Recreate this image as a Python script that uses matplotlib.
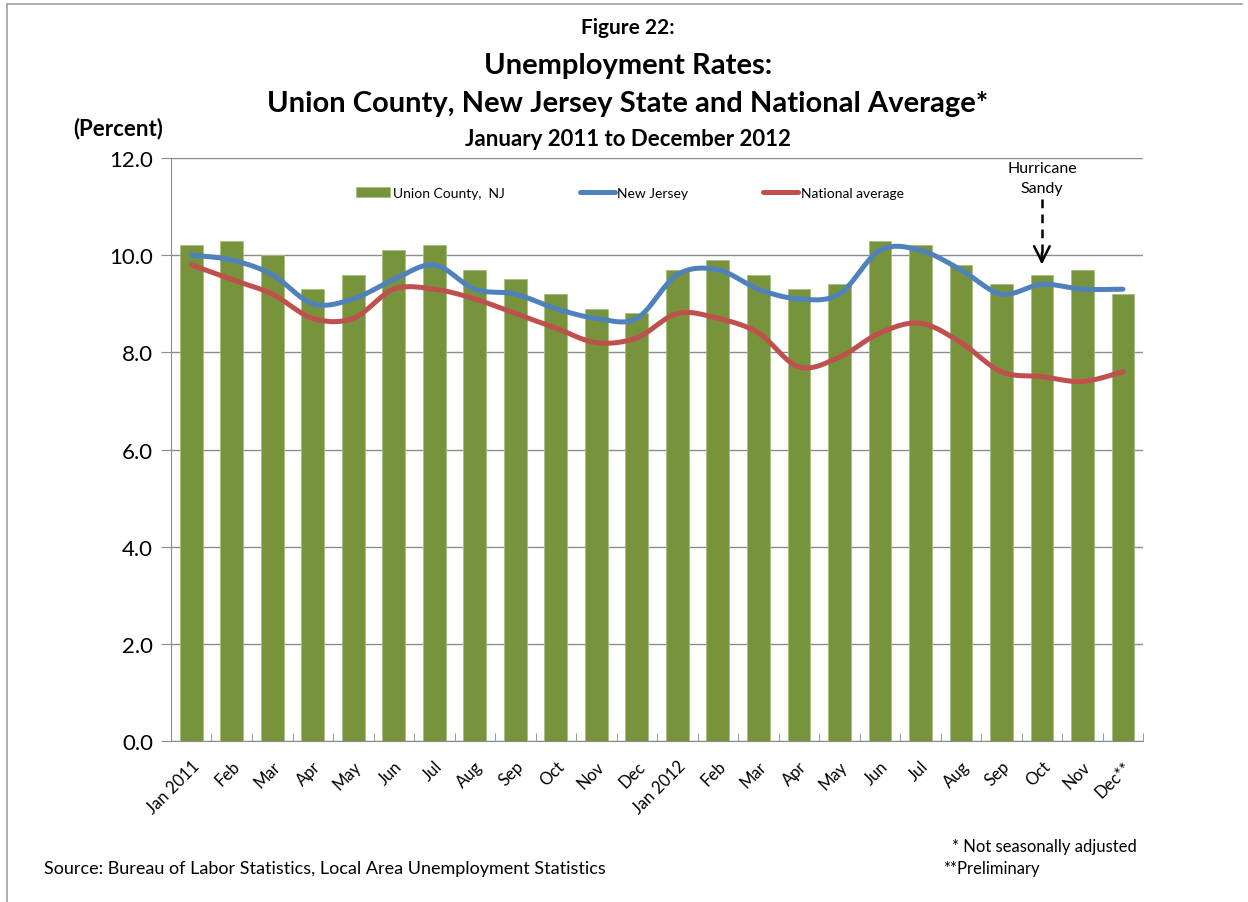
import numpy as np
import matplotlib
matplotlib.use("Agg")
import matplotlib.pyplot as plt

# Data
months = ["Jan 2011", "Feb", "Mar", "Apr", "May", "Jun", "Jul", "Aug", "Sep", "Oct", "Nov", "Dec",
          "Jan 2012", "Feb", "Mar", "Apr", "May", "Jun", "Jul", "Aug", "Sep", "Oct", "Nov", "Dec**"]
union_county = [10.2, 10.3, 10.0, 9.3, 9.6, 10.1, 10.2, 9.7, 9.5, 9.2, 8.9, 8.8,
                9.7, 9.9, 9.6, 9.3, 9.4, 10.3, 10.2, 9.8, 9.4, 9.6, 9.7, 9.2]
new_jersey = [10.0, 9.9, 9.6, 9.0, 9.1, 9.5, 9.8, 9.3, 9.2, 8.9, 8.7, 8.7,
              9.6, 9.7, 9.3, 9.1, 9.2, 10.1, 10.1, 9.7, 9.2, 9.4, 9.3, 9.3]
national = [9.8, 9.5, 9.2, 8.7, 8.7, 9.3, 9.3, 9.1, 8.8, 8.5, 8.2, 8.3,
            8.8, 8.7, 8.4, 7.7, 7.9, 8.4, 8.6, 8.2, 7.6, 7.5, 7.4, 7.6]

green = "#77933C"
blue = "#4F81BD"
red = "#C0504D"
grid_gray = "#8C8C8C"

plt.rcParams['font.family'] = ['Lato', 'DejaVu Sans']


def smooth(x, y, steps=20):
    # Excel-style smoothed line: cubic Bezier between points, tension 1/6
    x = np.asarray(x, float)
    y = np.asarray(y, float)
    pts = np.column_stack([x, y])
    n = len(pts)
    out = []
    t = np.linspace(0, 1, steps)[:, None]
    for i in range(n - 1):
        p0 = pts[i - 1] if i > 0 else pts[i]
        p1 = pts[i]
        p2 = pts[i + 1]
        p3 = pts[i + 2] if i + 2 < n else pts[i + 1]
        c1 = p1 + (p2 - p0) / 6
        c2 = p2 - (p3 - p1) / 6
        seg = ((1 - t) ** 3) * p1 + 3 * ((1 - t) ** 2) * t * c1 + 3 * (1 - t) * t ** 2 * c2 + t ** 3 * p2
        out.append(seg if i == 0 else seg[1:])
    out = np.vstack(out)
    return out[:, 0], out[:, 1]


fig = plt.figure(figsize=(12.48, 9.03), dpi=100)
ax = fig.add_axes([0.137, 0.1783, 0.779, 0.6456])

x = np.arange(len(months))
bars = ax.bar(x, union_county, width=0.56, color=green, edgecolor="#A6BF80", linewidth=0.6,
              label="Union County,  NJ", zorder=2)
sx, sy = smooth(x, new_jersey)
nj_line, = ax.plot(sx, sy, color=blue, lw=3.6, solid_capstyle='round', label="New Jersey", zorder=3)
sx, sy = smooth(x, national)
us_line, = ax.plot(sx, sy, color=red, lw=3.6, solid_capstyle='round', label="National average", zorder=3)

ax.set_xlim(-0.5, len(months) - 0.5)
ax.set_ylim(0, 12)
ax.set_yticks(np.arange(0, 12.1, 2))
ax.set_yticklabels([f"{v:.1f}" for v in np.arange(0, 12.1, 2)], fontsize=16)
ax.yaxis.grid(True, color=grid_gray, lw=1.0, zorder=0)
ax.set_axisbelow(True)

ax.set_xticks(x)
ax.set_xticklabels(months, rotation=45, ha='right', rotation_mode='anchor', fontsize=12)
ax.tick_params(axis='x', length=0, pad=12)
ax.set_xticks(np.arange(-0.5, len(months), 1), minor=True)
ax.tick_params(axis='x', which='minor', direction='in', length=6, color=grid_gray)
ax.tick_params(axis='y', direction='out', length=7, color=grid_gray, pad=6)

for s in ["top", "right"]:
    ax.spines[s].set_visible(False)
for s in ["left", "bottom"]:
    ax.spines[s].set_color(grid_gray)

ax.legend(handles=[bars, nj_line, us_line], ncol=3, loc='center left',
          bbox_to_anchor=(0.19, 0.94), borderaxespad=0, borderpad=0, frameon=False,
          fontsize=10, handlelength=2.5, handletextpad=0.2, columnspacing=5.4)

# Hurricane Sandy annotation
ax.text(21, 11.8, "Hurricane", ha='center', va='center', fontsize=11.5)
ax.text(21, 11.38, "Sandy", ha='center', va='center', fontsize=11.5)
ax.plot([21, 21], [11.15, 9.95], color='black', lw=1.8, ls=(0, (3.5, 2.5)))
ax.annotate("", xy=(21, 9.75), xytext=(21, 10.1),
            arrowprops=dict(arrowstyle='->', color='black', lw=1.8, mutation_scale=28))

# Titles and notes
fig.text(0.503, 0.969, "Figure 22:", ha='center', va='center', fontsize=15, fontweight='bold')
fig.text(0.503, 0.927, "Unemployment Rates:", ha='center', va='center', fontsize=21, fontweight='bold')
fig.text(0.503, 0.885, "Union County, New Jersey State and National Average*", ha='center',
         va='center', fontsize=21, fontweight='bold')
fig.text(0.503, 0.845, "January 2011 to December 2012", ha='center', va='center', fontsize=16,
         fontweight='bold')
fig.text(0.095, 0.858, "(Percent)", ha='center', va='center', fontsize=16, fontweight='bold')

fig.text(0.035, 0.038, "Source: Bureau of Labor Statistics, Local Area Unemployment Statistics",
         ha='left', va='center', fontsize=13)
fig.text(0.911, 0.062, "* Not seasonally adjusted", ha='right', va='center', fontsize=12)
fig.text(0.756, 0.038, "**Preliminary", ha='left', va='center', fontsize=12)

# outer frame (top and left edges visible)
fig.add_artist(plt.Line2D([0.006, 0.995], [0.995, 0.995], color="#A0A0A0", lw=1.2))
fig.add_artist(plt.Line2D([0.006, 0.006], [0.0, 0.995], color="#A0A0A0", lw=1.2))

fig.savefig("out.png", dpi=100)
